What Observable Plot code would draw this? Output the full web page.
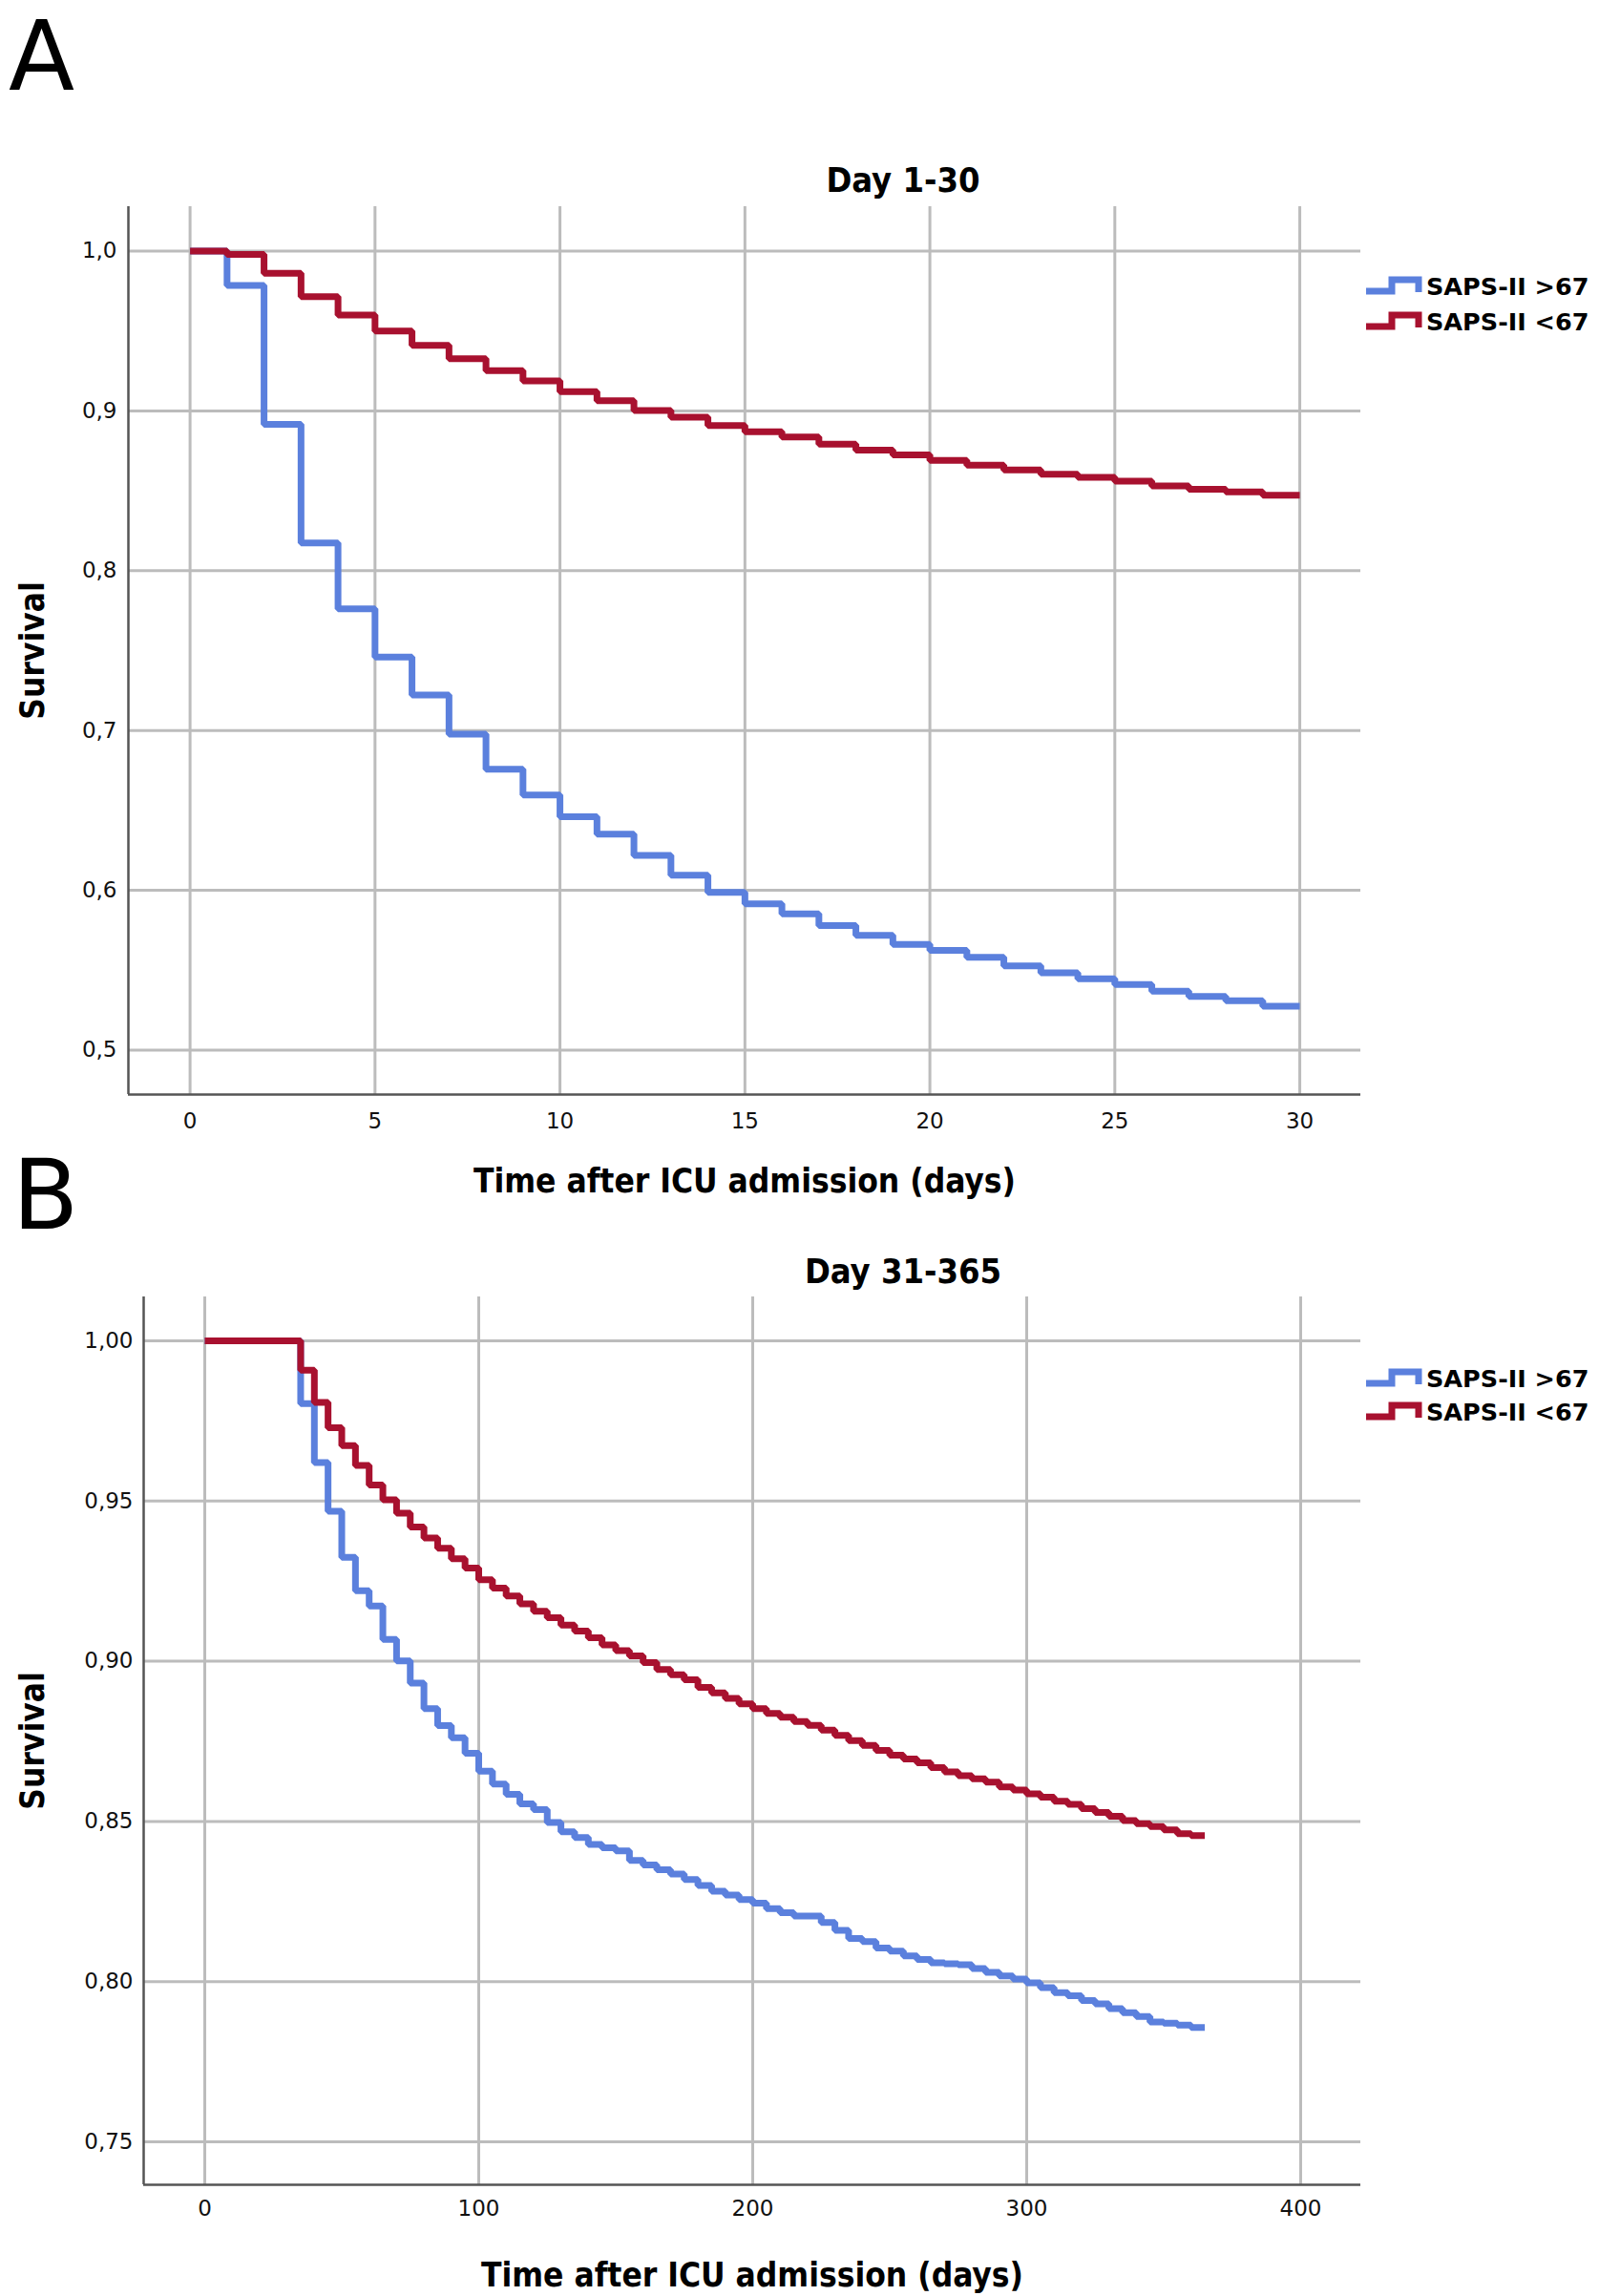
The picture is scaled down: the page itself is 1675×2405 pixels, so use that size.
<!DOCTYPE html>
<html>
<head>
<meta charset="utf-8">
<script src="https://cdn.jsdelivr.net/npm/d3@7"></script>
<script src="https://cdn.jsdelivr.net/npm/@observablehq/plot@0.6"></script>
<style>
  html, body { margin: 0; padding: 0; background: #fff; }
  #page { position: relative; width: 1675px; height: 2405px; background: #fff; overflow: hidden; }
  .letter { font-family: 'DejaVu Sans', sans-serif; font-size: 101px; line-height: 101px; color: #000; }
  .legtext { font-family: 'DejaVu Sans', sans-serif; font-weight: bold; font-size: 25.5px; line-height: 28px; color: #000; white-space: nowrap; }
</style>
</head>
<body>
<div id="page"></div>
<script>
// ---------------- data ----------------
// Panel A (Day 1-30): step start days, last entry is the end of the curve
const daysA = [0,1,2,3,4,5,6,7,8,9,10,11,12,13,14,15,16,17,18,19,20,21,22,23,24,25,26,27,28,29,30];
const highA = [1.000,0.9785,0.8916,0.8174,0.7762,0.7460,0.7222,0.6977,0.6758,0.6597,0.6460,0.6352,0.6218,0.6094,0.5987,0.5916,0.5852,0.5779,0.5718,0.5661,0.5624,0.5581,0.5527,0.5483,0.5446,0.5410,0.5369,0.5336,0.5309,0.5275];
const lowA  = [1.000,0.9980,0.9862,0.9715,0.9600,0.9500,0.9410,0.9326,0.9252,0.9188,0.9120,0.9064,0.9003,0.8960,0.8909,0.8870,0.8836,0.8792,0.8755,0.8725,0.8691,0.8661,0.8631,0.8604,0.8584,0.8560,0.8530,0.8510,0.8493,0.8473];

// Panel B (Day 31-365)
const daysB = [0,35,40,45,50,55,60,65,70,75,80,85,90,95,100,105,110,115,120,125,130,135,140,145,150,155,160,165,170,175,180,185,190,195,200,205,210,215,220,225,230,235,240,245,250,255,260,265,270,275,280,285,290,295,300,305,310,315,320,325,330,335,340,345,350,355,360,365];
const highB = [1.000,0.9804,0.9620,0.9468,0.9324,0.9220,0.9172,0.9068,0.9001,0.8932,0.8852,0.8799,0.8761,0.8713,0.8657,0.8617,0.8585,0.8555,0.8537,0.8497,0.8468,0.8450,0.8428,0.8418,0.8408,0.8378,0.8364,0.8349,0.8336,0.8319,0.8300,0.8282,0.8270,0.8256,0.8245,0.8228,0.8215,0.8205,0.8205,0.8185,0.8160,0.8135,0.8125,0.8105,0.8095,0.8080,0.8069,0.8059,0.8056,0.8053,0.8041,0.8029,0.8018,0.8008,0.7996,0.7981,0.7966,0.7956,0.7941,0.7931,0.7916,0.7903,0.7891,0.7874,0.7870,0.7864,0.7857];
const lowB  = [1.000,0.9908,0.9808,0.9729,0.9673,0.9611,0.9550,0.9504,0.9462,0.9419,0.9385,0.9353,0.9320,0.9291,0.9254,0.9228,0.9204,0.9179,0.9156,0.9136,0.9113,0.9094,0.9073,0.9051,0.9033,0.9017,0.8996,0.8974,0.8958,0.8942,0.8918,0.8901,0.8884,0.8867,0.8852,0.8837,0.8825,0.8812,0.8800,0.8785,0.8769,0.8752,0.8737,0.8722,0.8707,0.8695,0.8683,0.8668,0.8655,0.8643,0.8633,0.8623,0.8608,0.8598,0.8586,0.8576,0.8563,0.8553,0.8540,0.8528,0.8516,0.8503,0.8493,0.8484,0.8474,0.8462,0.8456];

// ticks and labels
const xTicksA = [0,5,10,15,20,25,30];
const xTickLabelsA = ["0","5","10","15","20","25","30"];
const yTicksA = [0.5,0.6,0.7,0.8,0.9,1.0];
const yTickLabelsA = ["0,5","0,6","0,7","0,8","0,9","1,0"];
const xTicksB = [0,100,200,300,400];
const xTickLabelsB = ["0","100","200","300","400"];
const yTicksB = [0.75,0.80,0.85,0.90,0.95,1.00];
const yTickLabelsB = ["0,75","0,80","0,85","0,90","0,95","1,00"];

const seriesNames = ["SAPS-II >67", "SAPS-II <67"];
const seriesColors = ["#5b80dd", "#a8112f"];
const panelLetters = ["A", "B"];
const panelTitles = ["Day 1-30", "Day 31-365"];
const xTitle = "Time after ICU admission (days)";
const yTitle = "Survival";

// ---------------- helpers ----------------
function rows(days, vals) {
  const out = vals.map((v, i) => ({day: days[i], surv: v}));
  out.push({day: days[days.length - 1], surv: vals[vals.length - 1]});
  return out;
}
const FONT = "'DejaVu Sans', sans-serif";
const FONTC = "'DejaVu Sans Condensed', 'DejaVu Sans', sans-serif";
const GRID = "#bcbcbc";
const AXIS = "#555";
const LW = 7;

function panel(o) {
  const high = rows(o.days, o.high);
  const low = rows(o.days, o.low);
  const fmtX = d => o.xLabels[o.xTicks.indexOf(d)];
  const fmtY = d => o.yLabels[o.yTicks.indexOf(d)];
  return Plot.plot({
    width: 1675, height: o.height,
    marginLeft: o.ml, marginRight: 250, marginTop: o.mt, marginBottom: o.mb,
    x: {domain: o.xDomain, label: null},
    y: {domain: o.yDomain, label: null},
    style: {fontFamily: FONT, fontSize: "23px", color: "#111", background: "transparent", overflow: "visible"},
    marks: [
      Plot.gridX(o.xTicks, {stroke: GRID, strokeOpacity: 1, strokeWidth: 3}),
      Plot.gridY(o.yTicks, {stroke: GRID, strokeOpacity: 1, strokeWidth: 3}),
      Plot.ruleX([o.xDomain[0]], {stroke: AXIS, strokeWidth: 2.5}),
      Plot.ruleY([o.yDomain[0]], {stroke: AXIS, strokeWidth: 2.5}),
      Plot.axisX({ticks: o.xTicks, tickFormat: fmtX, tickSize: 0, tickPadding: o.xPad, fontSize: 23, fill: "#111"}),
      Plot.axisY({ticks: o.yTicks, tickFormat: fmtY, tickSize: 0, tickPadding: o.yPad, fontSize: 23, fill: "#111"}),
      Plot.line(high, {x: "day", y: "surv", curve: "step-after", stroke: seriesColors[0], strokeWidth: LW, strokeLinejoin: "miter", strokeLinecap: "butt"}),
      Plot.line(low, {x: "day", y: "surv", curve: "step-after", stroke: seriesColors[1], strokeWidth: LW, strokeLinejoin: "miter", strokeLinecap: "butt"}),
      Plot.text([o.title], {text: d => d, frameAnchor: "top", lineAnchor: "middle", textAnchor: "middle", dx: o.titleDx, dy: o.titleDy, fontFamily: FONTC, fontWeight: "bold", fontSize: 36, fill: "#000"}),
      Plot.text([xTitle], {text: d => d, frameAnchor: "bottom", lineAnchor: "middle", textAnchor: "middle", dy: o.xTitleDy, fontFamily: FONTC, fontWeight: "bold", fontSize: 35, fill: "#000"}),
      Plot.text([yTitle], {text: d => d, frameAnchor: "left", lineAnchor: "middle", textAnchor: "middle", dx: o.yTitleDx, rotate: -90, fontFamily: FONTC, fontWeight: "bold", fontSize: 35, fill: "#000"})
    ]
  });
}

const page = document.getElementById("page");

function place(el, left, top) {
  el.style.position = "absolute";
  el.style.left = left + "px";
  el.style.top = top + "px";
  page.appendChild(el);
}

// Panel A
const plotA = panel({
  days: daysA, high: highA, low: lowA,
  xTicks: xTicksA, xLabels: xTickLabelsA, yTicks: yTicksA, yLabels: yTickLabelsA,
  xDomain: [-1.667, 31.65], yDomain: [0.4722, 1.0278],
  height: 1260, ml: 134, mt: 216, mb: 114, xPad: 19, yPad: 12,
  title: panelTitles[0], titleDx: 166, titleDy: -27, xTitleDy: 91, yTitleDx: -100
});
place(plotA, 0, 0);

// Panel B
const plotB = panel({
  days: daysB, high: highB, low: lowB,
  xTicks: xTicksB, xLabels: xTickLabelsB, yTicks: yTicksB, yLabels: yTickLabelsB,
  xDomain: [-22.3, 421.95], yDomain: [0.7366, 1.0137],
  height: 1145, ml: 150, mt: 98, mb: 117, xPad: 16, yPad: 11,
  title: panelTitles[1], titleDx: 158, titleDy: -26, xTitleDy: 95, yTitleDx: -116
});
place(plotB, 0, 1260);

// Panel letters
[[panelLetters[0], 9, 9], [panelLetters[1], 13, 1202]].forEach(([t, l, tp]) => {
  const d = document.createElement("div");
  d.className = "letter";
  d.textContent = t;
  place(d, l, tp);
});

// Legends
function legend(centers) {
  centers.forEach((cy, i) => {
    const ns = "http://www.w3.org/2000/svg";
    const s = document.createElementNS(ns, "svg");
    s.setAttribute("width", 64);
    s.setAttribute("height", 28);
    const p = document.createElementNS(ns, "path");
    p.setAttribute("d", "M3,19 H30 V7 H58 V20");
    p.setAttribute("fill", "none");
    p.setAttribute("stroke", seriesColors[i]);
    p.setAttribute("stroke-width", LW);
    p.setAttribute("stroke-linejoin", "miter");
    s.appendChild(p);
    s.style.display = "block";
    place(s, 1428, cy - 14);
    const t = document.createElement("div");
    t.className = "legtext";
    t.textContent = seriesNames[i];
    place(t, 1494, cy - 13.8);
  });
}
legend([300, 337]);
legend([1444, 1479]);
</script>
</body>
</html>
